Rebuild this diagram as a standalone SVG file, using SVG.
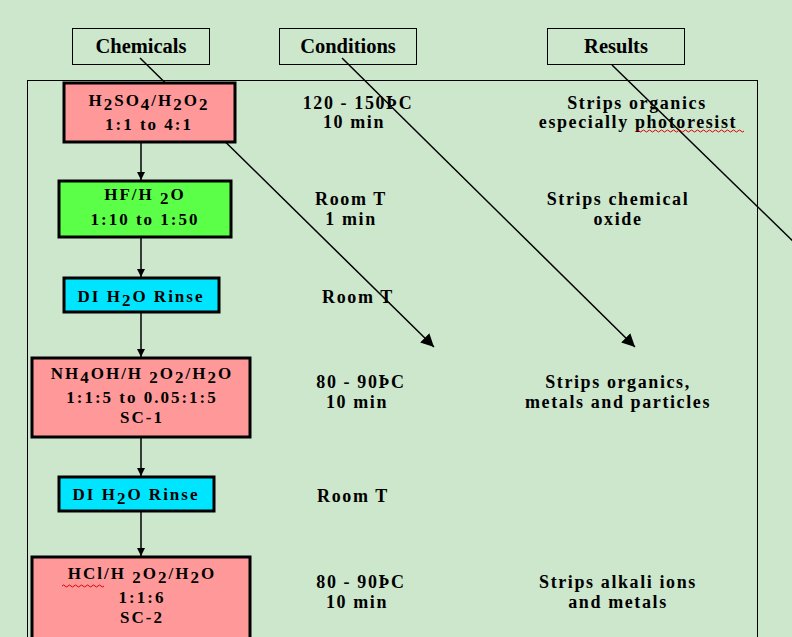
<svg xmlns="http://www.w3.org/2000/svg" width="792" height="637" viewBox="0 0 792 637">
<style>
.t{font-family:'Liberation Serif','Times New Roman','DejaVu Serif',serif;font-weight:bold;font-size:18px;letter-spacing:1.6px;fill:#000;text-anchor:middle}
.n{font-size:17px;letter-spacing:2px}
.h{font-family:'Liberation Serif','Times New Roman','DejaVu Serif',serif;font-weight:bold;font-size:20.5px;fill:#000;text-anchor:middle}
.hb{fill:none;stroke:#000;stroke-width:1}
.box{stroke:#000;stroke-width:3}
.pink{fill:#FF9999}
.green{fill:#5CFF48}
.cyan{fill:#00E5FF}
.ln{stroke:#000;stroke-width:1.5;fill:none}
.sq{stroke:#E00000;stroke-width:1;fill:none}
</style>
<defs>
<marker id="a" viewBox="0 0 10 10" refX="10" refY="5" markerWidth="8" markerHeight="8" markerUnits="userSpaceOnUse" orient="auto"><path d="M0,0 L10,5 L0,10 Z" fill="#000"/></marker>
<marker id="b" viewBox="0 0 10 10" refX="10" refY="5" markerWidth="13" markerHeight="13" markerUnits="userSpaceOnUse" orient="auto"><path d="M0,0 L10,5 L0,10 Z" fill="#000"/></marker>
</defs>
<rect width="792" height="637" fill="#CDE7CD"/>
<rect x="27.5" y="80.5" width="730" height="570" class="hb"/>
<g id="header-chemicals"><rect x="72.5" y="28.5" width="137" height="36" class="hb"/><text x="141" y="53" class="h">Chemicals</text></g>
<g id="header-conditions"><rect x="279.5" y="28.5" width="137" height="36" class="hb"/><text x="348" y="53" class="h">Conditions</text></g>
<g id="header-results"><rect x="547.5" y="28.5" width="137" height="36" class="hb"/><text x="616" y="53" class="h">Results</text></g>
<g id="connectors">
<line x1="140" y1="58" x2="434" y2="347" class="ln" marker-end="url(#b)"/>
<line x1="342" y1="58" x2="635" y2="347" class="ln" marker-end="url(#b)"/>
<line x1="612" y1="65" x2="800" y2="248" class="ln"/>
<line x1="141" y1="142" x2="141" y2="180" class="ln" marker-end="url(#a)"/>
<line x1="141" y1="237" x2="141" y2="277" class="ln" marker-end="url(#a)"/>
<line x1="141" y1="312" x2="141" y2="357" class="ln" marker-end="url(#a)"/>
<line x1="141" y1="437" x2="141" y2="476" class="ln" marker-end="url(#a)"/>
<line x1="141" y1="511" x2="141" y2="556" class="ln" marker-end="url(#a)"/>
</g>
<g id="n1"><rect x="64" y="83" width="171" height="59" class="box pink"/>
<text x="149" y="106" class="t n">H<tspan dy="4">2</tspan><tspan dy="-4">SO</tspan><tspan dy="4">4</tspan><tspan dy="-4">/H</tspan><tspan dy="4">2</tspan><tspan dy="-4">O</tspan><tspan dy="4">2</tspan></text>
<text x="149" y="130" class="t n">1:1 to 4:1</text></g>
<g id="n2"><rect x="59" y="181" width="172" height="56" class="box green"/>
<text x="145" y="200" class="t n">HF/H <tspan dy="4">2</tspan><tspan dy="-4">O</tspan></text>
<text x="145" y="225" class="t n">1:10 to 1:50</text></g>
<g id="n3"><rect x="64" y="278" width="155" height="34" class="box cyan"/>
<text x="141" y="302" class="t n">DI H<tspan dy="4">2</tspan><tspan dy="-4">O Rinse</tspan></text></g>
<g id="n4"><rect x="32" y="358" width="218" height="79" class="box pink"/>
<text x="142" y="379" class="t n">NH<tspan dy="4">4</tspan><tspan dy="-4">OH/H </tspan><tspan dy="4">2</tspan><tspan dy="-4">O</tspan><tspan dy="4">2</tspan><tspan dy="-4">/H</tspan><tspan dy="4">2</tspan><tspan dy="-4">O</tspan></text>
<text x="142" y="403" class="t n">1:1:5 to 0.05:1:5</text>
<text x="142" y="423" class="t n">SC-1</text></g>
<g id="n5"><rect x="59" y="477" width="155" height="34" class="box cyan"/>
<text x="136" y="500" class="t n">DI H<tspan dy="4">2</tspan><tspan dy="-4">O Rinse</tspan></text></g>
<g id="n6"><rect x="32" y="557" width="218" height="90" class="box pink"/>
<text x="142" y="579" class="t n">HCl/H <tspan dy="4">2</tspan><tspan dy="-4">O</tspan><tspan dy="4">2</tspan><tspan dy="-4">/H</tspan><tspan dy="4">2</tspan><tspan dy="-4">O</tspan></text>
<path d="M62,586 q1.5,-2 3,0 t3,0 t3,0 t3,0 t3,0 t3,0 t3,0 t3,0 t3,0 t3,0 t3,0 t3,0 t3,0 t3,0" class="sq"/>
<text x="142" y="603" class="t n">1:1:6</text>
<text x="142" y="623" class="t n">SC-2</text></g>
<g id="cond1"><text x="358" y="109" class="t">120 - 150ÞC</text><text x="354" y="128" class="t">10 min</text></g>
<g id="res1"><text x="637" y="109" class="t">Strips organics</text><text x="638" y="128" class="t">especially photoresist</text>
<path d="M636,131 q1.5,-2 3,0 t3,0 t3,0 t3,0 t3,0 t3,0 t3,0 t3,0 t3,0 t3,0 t3,0 t3,0 t3,0 t3,0 t3,0 t3,0 t3,0 t3,0 t3,0 t3,0 t3,0 t3,0 t3,0 t3,0 t3,0 t3,0 t3,0 t3,0 t3,0 t3,0 t3,0 t3,0 t3,0 t3,0 t3,0 t3,0" class="sq"/></g>
<g id="cond2"><text x="351" y="205" class="t">Room T</text><text x="351" y="225" class="t">1 min</text></g>
<g id="res2"><text x="618" y="205" class="t">Strips chemical</text><text x="618" y="225" class="t">oxide</text></g>
<g id="cond3"><text x="358" y="303" class="t">Room T</text></g>
<g id="cond4"><text x="361" y="388" class="t">80 - 90ÞC</text><text x="357" y="408" class="t">10 min</text></g>
<g id="res4"><text x="618" y="388" class="t">Strips organics,</text><text x="618" y="408" class="t">metals and particles</text></g>
<g id="cond5"><text x="353" y="502" class="t">Room T</text></g>
<g id="cond6"><text x="361" y="588" class="t">80 - 90ÞC</text><text x="357" y="608" class="t">10 min</text></g>
<g id="res6"><text x="618" y="588" class="t">Strips alkali ions</text><text x="618" y="608" class="t">and metals</text></g>
</svg>
